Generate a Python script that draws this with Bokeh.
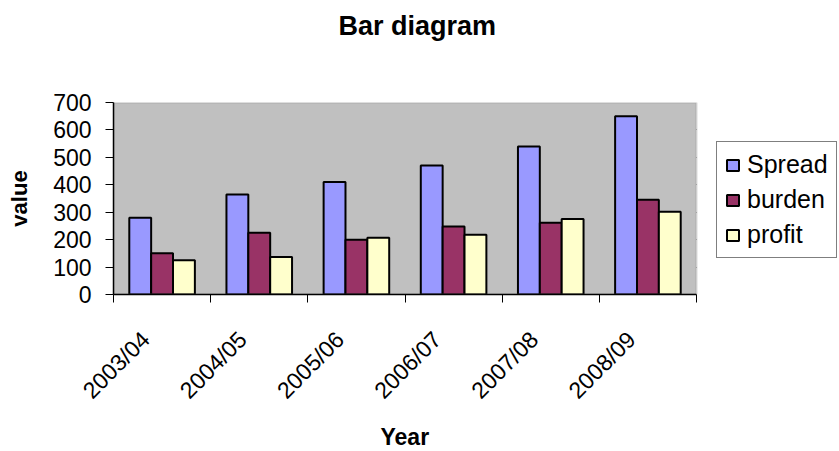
import math
from bokeh.plotting import figure
from bokeh.models import (ColumnDataSource, FixedTicker, Legend, LegendItem, Range1d, Title,
                          BoxAnnotation)
from bokeh.transform import dodge
from bokeh.embed import file_html
from bokeh.resources import INLINE

years = ["2003/04", "2004/05", "2005/06", "2006/07", "2007/08", "2008/09"]
spread = [280, 365, 410, 470, 540, 650]
burden = [150, 225, 200, 248, 262, 345]
profit = [125, 137, 207, 218, 275, 302]
y_ticks = [0, 100, 200, 300, 400, 500, 600, 700]

n = len(years)
xi = [i + 0.5 for i in range(n)]
label_pos = [i + 0.33 for i in range(n)]
src = ColumnDataSource(dict(x=xi, spread=spread, burden=burden, profit=profit))

FONT = "Liberation Sans"
W, H = 839, 451
# the frame runs to the right edge so that the legend can sit beside the plot area;
# the plot area itself spans 583 px of the 726 px frame
x_end = n * 726 / 583

p = figure(width=W, height=H, output_backend="svg", toolbar_location=None, title=None,
           x_range=Range1d(0, x_end), y_range=Range1d(0, 700),
           min_border_left=113, min_border_right=0, min_border_top=102,
           min_border_bottom=157)

p.background_fill_color = "white"
p.border_fill_color = "white"
p.outline_line_color = None

# plot area (grey) and cover for the legend side
p.add_layout(BoxAnnotation(left=0, right=n, bottom=0, top=700, fill_color="#C0C0C0",
                           fill_alpha=1.0, line_color=None, level="underlay"))
p.add_layout(BoxAnnotation(left=n, fill_color="white", fill_alpha=1.0,
                           line_color=None, level="glyph"))

bw = 0.225
r1 = p.vbar(x=dodge("x", -bw, range=p.x_range), top="spread", width=bw, source=src,
            fill_color="#9999FF", line_color="black", line_width=2)
r2 = p.vbar(x=dodge("x", 0.0, range=p.x_range), top="burden", width=bw, source=src,
            fill_color="#993366", line_color="black", line_width=2)
r3 = p.vbar(x=dodge("x", bw, range=p.x_range), top="profit", width=bw, source=src,
            fill_color="#FFFFCC", line_color="black", line_width=2)

p.add_layout(BoxAnnotation(left=0, right=n, bottom=0, top=700, fill_color=None,
                           line_color="#808080", line_width=2, level="glyph"))

# x axis
xa = p.xaxis[0]
xa.bounds = (0, n)
xa.ticker = FixedTicker(ticks=label_pos, minor_ticks=list(range(n + 1)))
xa.major_label_overrides = {x: y for x, y in zip(label_pos, years)}
xa.major_label_orientation = math.pi / 4
xa.major_tick_line_color = None
xa.minor_tick_line_color = "black"
xa.minor_tick_out = 8
xa.minor_tick_in = 0
xa.axis_line_color = "black"
xa.axis_line_width = 1.5
xa.major_label_text_font = FONT
xa.major_label_text_font_size = "23px"
xa.major_label_text_color = "black"
xa.major_label_standoff = 33

# y axis
ya = p.yaxis[0]
ya.ticker = FixedTicker(ticks=y_ticks)
ya.minor_tick_line_color = None
ya.major_tick_line_color = "black"
ya.major_tick_out = 8
ya.major_tick_in = 0
ya.axis_line_color = "black"
ya.axis_line_width = 1.5
ya.major_label_text_font = FONT
ya.major_label_text_font_size = "23px"
ya.major_label_text_color = "black"
ya.major_label_standoff = 14
ya.axis_label = "value"
ya.axis_label_text_font = FONT
ya.axis_label_text_font_size = "22px"
ya.axis_label_text_font_style = "bold"
ya.axis_label_text_color = "black"
ya.axis_label_standoff = 18

p.xgrid.grid_line_color = None
p.ygrid.ticker = FixedTicker(ticks=y_ticks[1:-1])
p.ygrid.grid_line_color = "black"
p.ygrid.grid_line_width = 1

# chart title
p.add_layout(Title(text="Bar diagram", text_font=FONT, text_font_size="27px",
                   text_font_style="bold", text_color="black", align="left",
                   offset=225, standoff=10,
                   padding=dict(left=0, right=0, top=0, bottom=57)), "above")

# x axis title (centred on the plot area, not on the wider frame)
p.add_layout(Title(text="Year", text_font=FONT, text_font_size="23px",
                   text_font_style="bold", text_color="black", align="left",
                   offset=267, standoff=0, vertical_align="top",
                   padding=dict(left=0, right=0, top=8, bottom=0)), "below")

legend = Legend(items=[LegendItem(label="Spread", renderers=[r1]),
                       LegendItem(label="burden", renderers=[r2]),
                       LegendItem(label="profit", renderers=[r3])],
                location=(603, 36), orientation="vertical",
                label_text_font=FONT, label_text_font_size="25px", label_text_color="black",
                glyph_width=15, glyph_height=14, label_standoff=7, label_height=28,
                padding=8, spacing=6, margin=0,
                border_line_color="black", border_line_width=1,
                background_fill_color="white", background_fill_alpha=1.0)
p.add_layout(legend, "center")

open("out.html", "w").write(file_html(p, INLINE))
